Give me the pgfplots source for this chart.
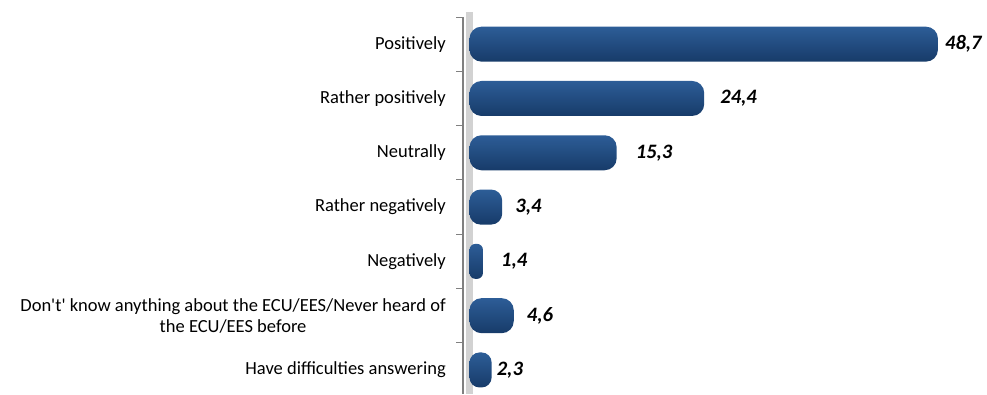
\documentclass[border=0pt]{standalone}
\usepackage{pgfplots}
\pgfplotsset{compat=1.18}
\usepackage{fontspec}
\setmainfont{Carlito}
\definecolor{barTop}{HTML}{2D5D97}
\definecolor{barMid}{HTML}{3466A0}
\definecolor{barBot}{HTML}{173B69}
\definecolor{wallGray}{HTML}{D2D2D2}
\definecolor{axGray}{HTML}{808080}
\begin{document}
\begin{tikzpicture}[x=1pt,y=1pt]
\path[use as bounding box] (0,0) rectangle (987,394);
\begin{axis}[
  at={(463pt,377pt)}, anchor=north west,
  scale only axis, width=517pt, height=377.4pt,
  xmin=-0.676, xmax=53.07,
  ymin=-0.5, ymax=6.45, y dir=reverse,
  clip=false,
  axis x line=none,
  axis y line=left,
  axis line style={-, draw=axGray, line width=1.2pt},
  ytick={0,1,2,3,4,5,6},
  yticklabels={Positively, Rather positively, Neutrally, Rather negatively, Negatively, {Don\textquotesingle t\textquotesingle{} know anything about the ECU/EES/Never heard of\\the ECU/EES before}, Have difficulties answering},
  yticklabel style={align=center, font=\fontsize{18.5}{21}\selectfont, inner sep=0pt, xshift=-17pt},
  major tick length=0pt,
  minor ytick={-0.5,0.5,1.5,2.5,3.5,4.5,5.5},
  minor tick length=7pt,
  tick align=outside,
  minor tick style={draw=axGray, line width=1pt},
  xbar, bar width=35pt, bar shift=0pt,
  nodes near coords,
  nodes near coords align={horizontal},
  /pgf/number format/.cd, use comma, fixed, fixed zerofill, precision=1, assume math mode=true,
  /pgfplots/.cd,
  every node near coord/.append style={font=\fontsize{20.5}{21}\selectfont\bfseries\itshape, black, anchor=west, inner sep=0pt},
  barsty/.style={draw=none, bar shift=0pt, top color=barTop, middle color=barMid, bottom color=barBot, shading angle=0},
]
\fill[wallGray] (axis cs:-0.364,-0.6) rectangle (axis cs:0.364,6.45);
\addplot[barsty, rounded corners=12pt, every node near coord/.append style={xshift=7pt}]
  coordinates {(48.7,0)};
\addplot[barsty, rounded corners=12pt, every node near coord/.append style={xshift=16pt}]
  coordinates {(24.4,1)};
\addplot[barsty, rounded corners=12pt, every node near coord/.append style={xshift=19pt}]
  coordinates {(15.3,2)};
\addplot[barsty, rounded corners=11pt, every node near coord/.append style={xshift=13pt}]
  coordinates {(3.4,3)};
\addplot[barsty, rounded corners=6pt, every node near coord/.append style={xshift=18pt}]
  coordinates {(1.4,4)};
\addplot[barsty, rounded corners=12pt, every node near coord/.append style={xshift=13pt}]
  coordinates {(4.6,5)};
\addplot[barsty, rounded corners=10pt, every node near coord/.append style={xshift=5pt}]
  coordinates {(2.3,6)};
\end{axis}
\end{tikzpicture}
\end{document}
